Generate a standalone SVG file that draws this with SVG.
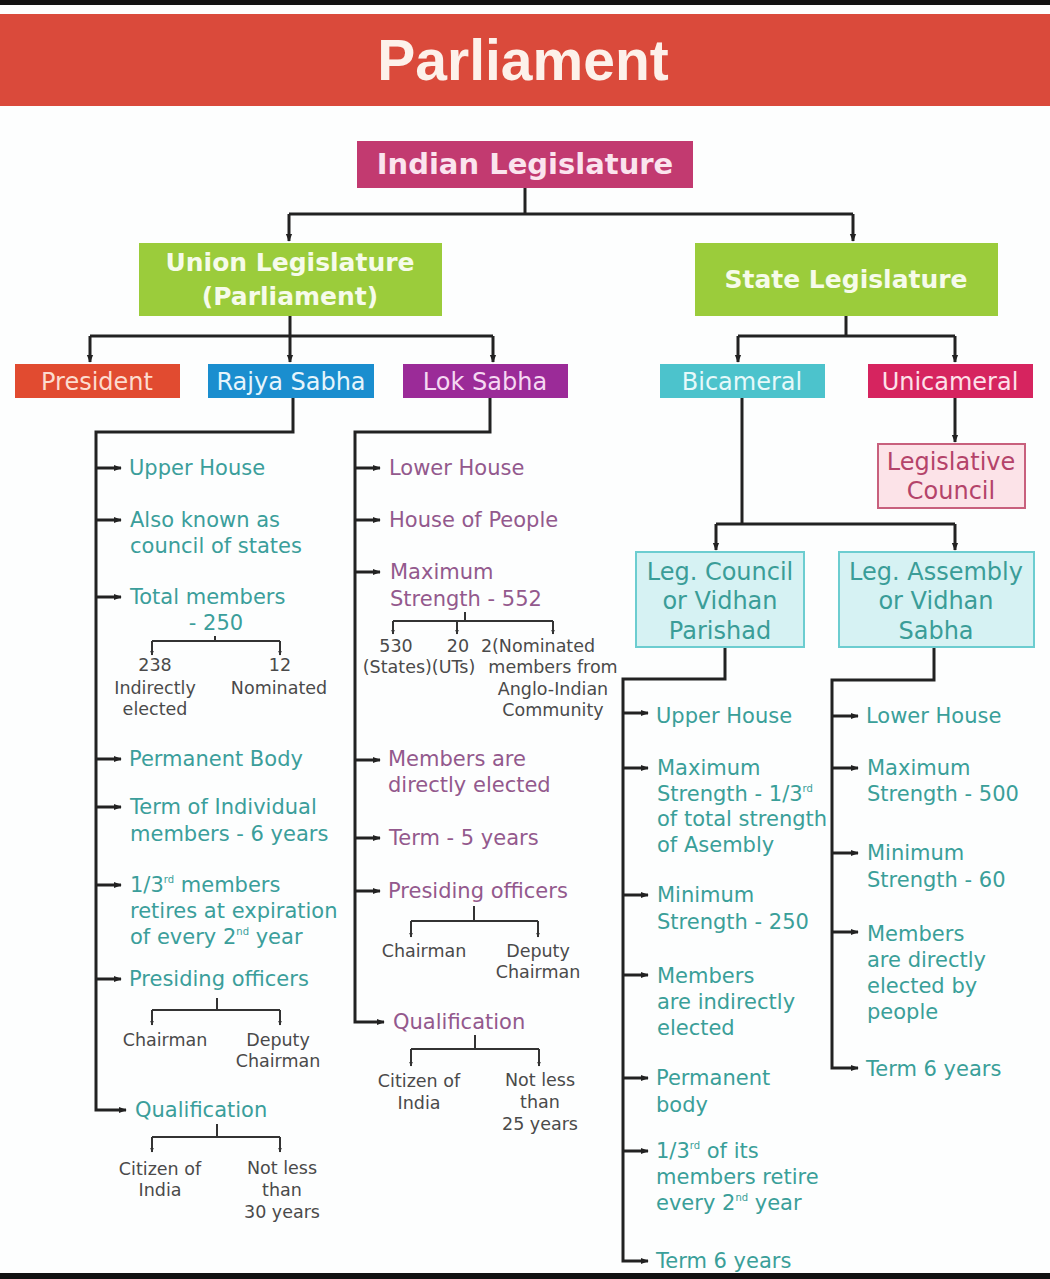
<svg xmlns="http://www.w3.org/2000/svg" width="1050" height="1279" viewBox="0 0 1050 1279">
<defs>
<marker id="ah" viewBox="0 0 10 10" refX="9" refY="5" markerWidth="8" markerHeight="8" markerUnits="userSpaceOnUse" orient="auto">
<path d="M0,1 L10,5 L0,9 z" fill="#222"/>
</marker>
<marker id="sh" viewBox="0 0 10 10" refX="9" refY="5" markerWidth="5" markerHeight="5" markerUnits="userSpaceOnUse" orient="auto">
<path d="M0,1 L10,5 L0,9 z" fill="#333"/>
</marker>
</defs>
<style>
.ln{stroke:#222;stroke-width:3;fill:none}
.la{stroke:#222;stroke-width:3;fill:none;marker-end:url(#ah)}
.sl{stroke:#333;stroke-width:2;fill:none}
.sa{stroke:#333;stroke-width:2;fill:none;marker-end:url(#sh)}
.t{font-family:"DejaVu Sans",Verdana,sans-serif;font-size:21px}
.rs{fill:#3b9e9b}
.ls{fill:#93598d}
.st{fill:#3a9f99}
.g{font-family:"DejaVu Sans",Verdana,sans-serif;font-size:17.5px;fill:#4a4a4a;text-anchor:middle}
.bx{font-family:"DejaVu Sans",Verdana,sans-serif;font-size:24px;text-anchor:middle}
.hb{font-family:"DejaVu Sans",Verdana,sans-serif;font-weight:bold;text-anchor:middle}
.sup{font-size:10px}
</style>
<rect x="0" y="0" width="1050" height="1279" fill="#fdfefe"/>
<rect x="0" y="0" width="1050" height="5" fill="#111"/>
<rect x="0" y="1273" width="1050" height="6" fill="#111"/>

<g id="banner">
<rect x="0" y="14" width="1050" height="92" fill="#da4a3b"/>
<text x="523" y="80" font-family="Liberation Sans,Arial,sans-serif" font-weight="bold" font-size="57" fill="#fdf1ea" text-anchor="middle">Parliament</text>
</g>

<g id="connectors">
<path class="ln" d="M525,188 V214"/>
<path class="ln" d="M289,214 H853"/>
<path class="la" d="M289,214 V241"/>
<path class="la" d="M853,214 V241"/>
<path class="ln" d="M290,316 V336"/>
<path class="ln" d="M90,336 H493"/>
<path class="la" d="M90,336 V362"/>
<path class="la" d="M290,336 V362"/>
<path class="la" d="M493,336 V362"/>
<path class="ln" d="M846,316 V336"/>
<path class="ln" d="M738,336 H955"/>
<path class="la" d="M738,336 V362"/>
<path class="la" d="M955,336 V362"/>
<path class="la" d="M293,398 V432 H96 V1110 H126"/>
<path class="la" d="M96,468 H121"/>
<path class="la" d="M96,520 H121"/>
<path class="la" d="M96,597 H121"/>
<path class="la" d="M96,759 H121"/>
<path class="la" d="M96,807 H121"/>
<path class="la" d="M96,885 H121"/>
<path class="la" d="M96,979 H121"/>
<path class="sl" d="M215,636 V641 M152,641 H280"/>
<path class="sa" d="M152,641 V655"/>
<path class="sa" d="M280,641 V655"/>
<path class="sl" d="M217,998 V1010 M152,1010 H280"/>
<path class="sa" d="M152,1010 V1025"/>
<path class="sa" d="M280,1010 V1025"/>
<path class="sl" d="M217,1124 V1137 M152,1137 H280"/>
<path class="sa" d="M152,1137 V1152"/>
<path class="sa" d="M280,1137 V1152"/>
<path class="la" d="M490,398 V432 H355 V1022 H384"/>
<path class="la" d="M355,468 H380"/>
<path class="la" d="M355,520 H380"/>
<path class="la" d="M355,572 H380"/>
<path class="la" d="M355,760 H380"/>
<path class="la" d="M355,838 H380"/>
<path class="la" d="M355,891 H380"/>
<path class="sl" d="M465,612 V621 M393,621 H553"/>
<path class="sa" d="M393,621 V634"/>
<path class="sa" d="M457,621 V634"/>
<path class="sa" d="M553,621 V634"/>
<path class="sl" d="M474,906 V921 M411,921 H538"/>
<path class="sa" d="M411,921 V937"/>
<path class="sa" d="M538,921 V937"/>
<path class="sl" d="M475,1035 V1049 M411,1049 H539"/>
<path class="sa" d="M411,1049 V1066"/>
<path class="sa" d="M539,1049 V1066"/>
<path class="ln" d="M742,398 V524"/>
<path class="ln" d="M716,524 H955"/>
<path class="la" d="M716,524 V550"/>
<path class="la" d="M955,524 V550"/>
<path class="la" d="M955,398 V442"/>
<path class="la" d="M725,647 V679 H623 V1261 H648"/>
<path class="la" d="M623,713 H648"/>
<path class="la" d="M623,768 H648"/>
<path class="la" d="M623,895 H648"/>
<path class="la" d="M623,975 H648"/>
<path class="la" d="M623,1078 H648"/>
<path class="la" d="M623,1151 H648"/>
<path class="la" d="M934,647 V680 H832 V1068 H858"/>
<path class="la" d="M832,716 H858"/>
<path class="la" d="M832,768 H858"/>
<path class="la" d="M832,853 H858"/>
<path class="la" d="M832,932 H858"/>
</g>

<g id="indian-legislature">
<rect x="357" y="141" width="336" height="47" fill="#c23a70"/>
<text class="hb" x="525" y="174" font-size="29" fill="#fbe4ee">Indian Legislature</text>
</g>
<g id="union-legislature">
<rect x="139" y="243" width="303" height="73" fill="#9bcc3b"/>
<text class="hb" x="290" y="271" font-size="25" fill="#f6fbea">Union Legislature</text>
<text class="hb" x="290" y="305" font-size="25" fill="#f6fbea">(Parliament)</text>
</g>
<g id="state-legislature">
<rect x="695" y="243" width="303" height="73" fill="#9bcc3b"/>
<text class="hb" x="846" y="288" font-size="25" fill="#f6fbea">State Legislature</text>
</g>
<g id="president">
<rect x="15" y="364" width="165" height="34" fill="#e14b30"/>
<text class="bx" x="97" y="390" fill="#fcdccf">President</text>
</g>
<g id="rajya-sabha">
<rect x="208" y="364" width="166" height="34" fill="#1a8ecf"/>
<text class="bx" x="291" y="390" fill="#e6f5fc">Rajya Sabha</text>
</g>
<g id="lok-sabha">
<rect x="403" y="364" width="165" height="34" fill="#9b2b98"/>
<text class="bx" x="485" y="390" fill="#f5d8f2">Lok Sabha</text>
</g>
<g id="bicameral">
<rect x="660" y="364" width="165" height="34" fill="#4cc3cc"/>
<text class="bx" x="742" y="390" fill="#e6f9fa">Bicameral</text>
</g>
<g id="unicameral">
<rect x="868" y="364" width="165" height="34" fill="#d6245f"/>
<text class="bx" x="950" y="390" fill="#fde0e9">Unicameral</text>
</g>
<g id="legislative-council">
<rect x="878" y="444" width="147" height="64" fill="#fce3e8" stroke="#c8607d" stroke-width="2"/>
<text class="bx" x="951" y="470" fill="#b4436a">Legislative</text>
<text class="bx" x="951" y="499" fill="#b4436a">Council</text>
</g>
<g id="leg-council">
<rect x="636" y="552" width="168" height="95" fill="#d6f2f3" stroke="#6ccdd0" stroke-width="2"/>
<text class="bx" x="720" y="580" fill="#3a9d98">Leg. Council</text>
<text class="bx" x="720" y="609" fill="#3a9d98">or Vidhan</text>
<text class="bx" x="720" y="639" fill="#3a9d98">Parishad</text>
</g>
<g id="leg-assembly">
<rect x="839" y="552" width="195" height="95" fill="#d6f2f3" stroke="#6ccdd0" stroke-width="2"/>
<text class="bx" x="936" y="580" fill="#3a9d98">Leg. Assembly</text>
<text class="bx" x="936" y="609" fill="#3a9d98">or Vidhan</text>
<text class="bx" x="936" y="639" fill="#3a9d98">Sabha</text>
</g>

<g id="rajya-items">
<text class="t rs" x="129" y="475">Upper House</text>
<text class="t rs" x="130" y="527">Also known as</text>
<text class="t rs" x="130" y="553">council of states</text>
<text class="t rs" x="130" y="604">Total members</text>
<text class="t rs" x="216" y="630" text-anchor="middle">- 250</text>
<text class="g" x="155" y="671">238</text>
<text class="g" x="155" y="694">Indirectly</text>
<text class="g" x="155" y="715">elected</text>
<text class="g" x="280" y="671">12</text>
<text class="g" x="279" y="694">Nominated</text>
<text class="t rs" x="129" y="766">Permanent Body</text>
<text class="t rs" x="130" y="814">Term of Individual</text>
<text class="t rs" x="130" y="841">members - 6 years</text>
<text class="t rs" x="130" y="892">1/3<tspan class="sup" dy="-9">rd</tspan><tspan dy="9"> members</tspan></text>
<text class="t rs" x="130" y="918">retires at expiration</text>
<text class="t rs" x="130" y="944">of every 2<tspan class="sup" dy="-9">nd</tspan><tspan dy="9"> year</tspan></text>
<text class="t rs" x="129" y="986">Presiding officers</text>
<text class="g" x="165" y="1046">Chairman</text>
<text class="g" x="278" y="1046">Deputy</text>
<text class="g" x="278" y="1067">Chairman</text>
<text class="t rs" x="135" y="1117">Qualification</text>
<text class="g" x="160" y="1175">Citizen of</text>
<text class="g" x="160" y="1196">India</text>
<text class="g" x="282" y="1174">Not less</text>
<text class="g" x="282" y="1196">than</text>
<text class="g" x="282" y="1218">30 years</text>
</g>

<g id="lok-items">
<text class="t ls" x="389" y="475">Lower House</text>
<text class="t ls" x="389" y="527">House of People</text>
<text class="t ls" x="390" y="579">Maximum</text>
<text class="t ls" x="390" y="606">Strength - 552</text>
<text class="g" x="396" y="652">530</text>
<text class="g" x="458" y="652">20</text>
<text class="g" x="538" y="652">2(Nominated</text>
<text class="g" x="419" y="673">(States)(UTs)</text>
<text class="g" x="553" y="673">members from</text>
<text class="g" x="553" y="695">Anglo-Indian</text>
<text class="g" x="553" y="716">Community</text>
<text class="t ls" x="388" y="766">Members are</text>
<text class="t ls" x="388" y="792">directly elected</text>
<text class="t ls" x="389" y="845">Term - 5 years</text>
<text class="t ls" x="388" y="898">Presiding officers</text>
<text class="g" x="424" y="957">Chairman</text>
<text class="g" x="538" y="957">Deputy</text>
<text class="g" x="538" y="978">Chairman</text>
<text class="t ls" x="393" y="1029">Qualification</text>
<text class="g" x="419" y="1087">Citizen of</text>
<text class="g" x="419" y="1109">India</text>
<text class="g" x="540" y="1086">Not less</text>
<text class="g" x="540" y="1108">than</text>
<text class="g" x="540" y="1130">25 years</text>
</g>

<g id="council-items">
<text class="t st" x="656" y="723">Upper House</text>
<text class="t st" x="657" y="775">Maximum</text>
<text class="t st" x="657" y="801">Strength - 1/3<tspan class="sup" dy="-9">rd</tspan></text>
<text class="t st" x="657" y="826">of total strength</text>
<text class="t st" x="657" y="852">of Asembly</text>
<text class="t st" x="657" y="902">Minimum</text>
<text class="t st" x="657" y="929">Strength - 250</text>
<text class="t st" x="657" y="983">Members</text>
<text class="t st" x="657" y="1009">are indirectly</text>
<text class="t st" x="657" y="1035">elected</text>
<text class="t st" x="656" y="1085">Permanent</text>
<text class="t st" x="656" y="1112">body</text>
<text class="t st" x="656" y="1158">1/3<tspan class="sup" dy="-9">rd</tspan><tspan dy="9"> of its</tspan></text>
<text class="t st" x="656" y="1184">members retire</text>
<text class="t st" x="656" y="1210">every 2<tspan class="sup" dy="-9">nd</tspan><tspan dy="9"> year</tspan></text>
<text class="t st" x="656" y="1268">Term 6 years</text>
</g>

<g id="assembly-items">
<text class="t st" x="866" y="723">Lower House</text>
<text class="t st" x="867" y="775">Maximum</text>
<text class="t st" x="867" y="801">Strength - 500</text>
<text class="t st" x="867" y="860">Minimum</text>
<text class="t st" x="867" y="887">Strength - 60</text>
<text class="t st" x="867" y="941">Members</text>
<text class="t st" x="867" y="967">are directly</text>
<text class="t st" x="867" y="993">elected by</text>
<text class="t st" x="867" y="1019">people</text>
<text class="t st" x="866" y="1076">Term 6 years</text>
</g>
</svg>
